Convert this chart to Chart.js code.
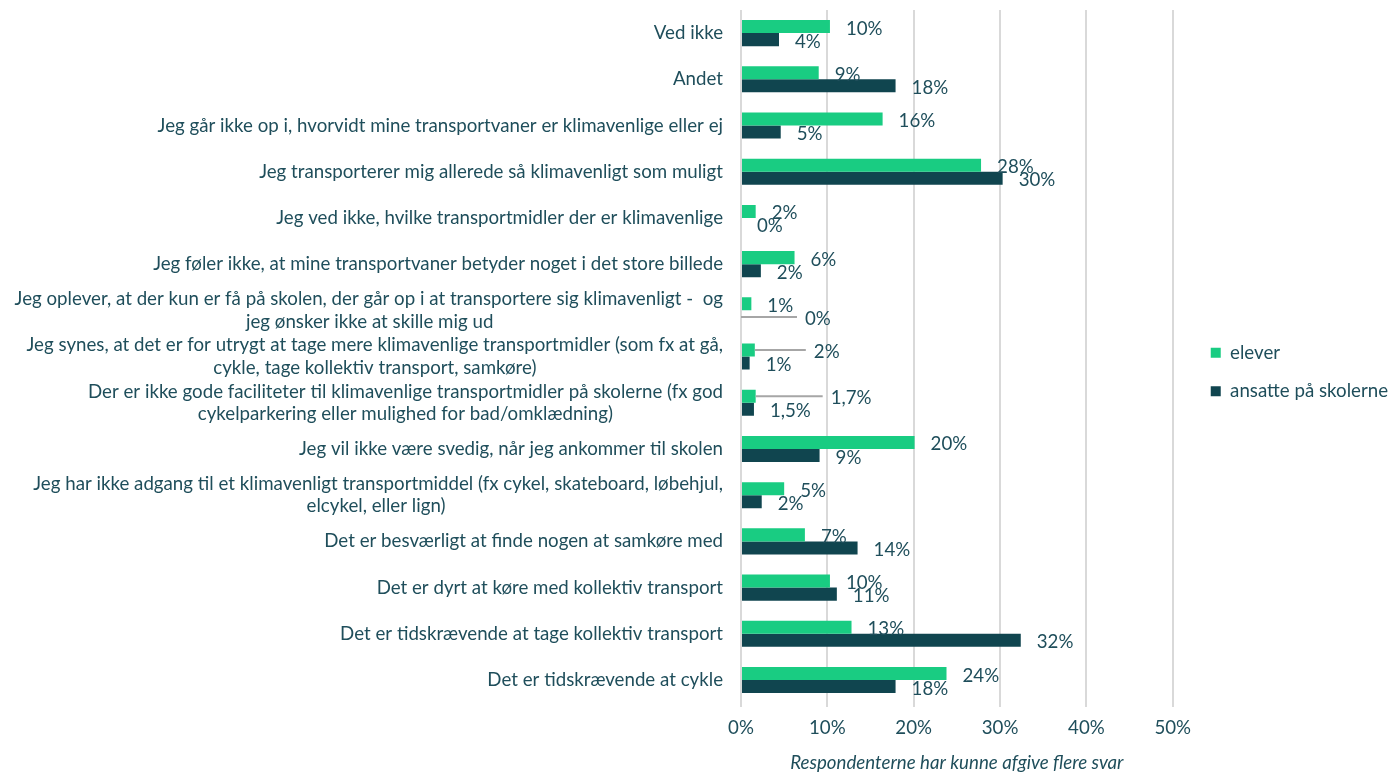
<!DOCTYPE html>
<html>
<head>
<meta charset="utf-8">
<script src="https://cdn.jsdelivr.net/npm/chart.js@4/dist/chart.umd.min.js"></script>
<style>
  html, body { margin: 0; padding: 0; background: #fff; }
  #wrap { width: 1390px; height: 772px; position: relative; }
</style>
</head>
<body>
<div id="wrap"><canvas id="bar-chart"></canvas></div>
<script>
// categories, top to bottom
const categories = [
  'Ved ikke',
  'Andet',
  'Jeg går ikke op i, hvorvidt mine transportvaner er klimavenlige eller ej',
  'Jeg transporterer mig allerede så klimavenligt som muligt',
  'Jeg ved ikke, hvilke transportmidler der er klimavenlige',
  'Jeg føler ikke, at mine transportvaner betyder noget i det store billede',
  ['Jeg oplever, at der kun er få på skolen, der går op i at transportere sig klimavenligt -  og', 'jeg ønsker ikke at skille mig ud'],
  ['Jeg synes, at det er for utrygt at tage mere klimavenlige transportmidler (som fx at gå,', 'cykle, tage kollektiv transport, samkøre)'],
  ['Der er ikke gode faciliteter til klimavenlige transportmidler på skolerne (fx god', 'cykelparkering eller mulighed for bad/omklædning)'],
  'Jeg vil ikke være svedig, når jeg ankommer til skolen',
  ['Jeg har ikke adgang til et klimavenligt transportmiddel (fx cykel, skateboard, løbehjul,', 'elcykel, eller lign)'],
  'Det er besværligt at finde nogen at samkøre med',
  'Det er dyrt at køre med kollektiv transport',
  'Det er tidskrævende at tage kollektiv transport',
  'Det er tidskrævende at cykle'
];

const seriesNames = ['elever', 'ansatte på skolerne'];

// values in percent
const elever = [10.3, 9.0, 16.4, 27.8, 1.7, 6.2, 1.2, 1.6, 1.7, 20.1, 5.0, 7.4, 10.3, 12.8, 23.8];
const ansatte = [4.4, 17.9, 4.6, 30.3, 0, 2.3, 0, 1.0, 1.5, 9.1, 2.4, 13.5, 11.1, 32.4, 17.9];

// data labels as printed in the chart
const eleverLabels = ['10%', '9%', '16%', '28%', '2%', '6%', '1%', '2%', '1,7%', '20%', '5%', '7%', '10%', '13%', '24%'];
const ansatteLabels = ['4%', '18%', '5%', '30%', '0%', '2%', '0%', '1%', '1,5%', '9%', '2%', '14%', '11%', '32%', '18%'];

const xTicks = [0, 10, 20, 30, 40, 50];

// labels that were pulled out with a leader line: [datasetIndex, categoryIndex, extra px]
const pulledLabels = [[1, 6, 48], [0, 7, 43], [0, 8, 59]];

const textColor = '#1f4e5b';
const fontFamily = 'Lato, "Noto Sans", sans-serif';
const fontSize = 18.7;
Chart.defaults.font.family = fontFamily;
Chart.defaults.font.size = fontSize;
Chart.defaults.color = textColor;

// wrapped category labels are centred line by line, so pad the shorter lines
const measureCtx = document.createElement('canvas').getContext('2d');
measureCtx.font = fontSize + 'px ' + fontFamily;
const centreLines = lines => {
  if (!Array.isArray(lines)) return lines;
  const widths = lines.map(l => measureCtx.measureText(l).width);
  const maxW = Math.max(...widths);
  const spaceW = measureCtx.measureText(' ').width;
  return lines.map((l, i) => l + ' '.repeat(Math.round((maxW - widths[i]) / 2 / spaceW)));
};

const labelPlugin = {
  id: 'barLabels',
  afterDatasetsDraw(chart) {
    const ctx = chart.ctx;
    const texts = [eleverLabels, ansatteLabels];
    ctx.save();
    ctx.font = fontSize + 'px ' + fontFamily;
    ctx.fillStyle = textColor;
    ctx.textAlign = 'left';
    ctx.textBaseline = 'middle';
    chart.data.datasets.forEach((ds, di) => {
      const meta = chart.getDatasetMeta(di);
      meta.data.forEach((bar, i) => {
        let x = bar.x + 16;
        const pulled = pulledLabels.find(p => p[0] === di && p[1] === i);
        if (pulled) {
          x += pulled[2];
          ctx.strokeStyle = '#a6a6a6';
          ctx.lineWidth = 2;
          ctx.beginPath();
          ctx.moveTo(bar.x, bar.y);
          ctx.lineTo(x - 8, bar.y);
          ctx.stroke();
        }
        ctx.fillText(texts[di][i], x, bar.y + 2);
      });
    });
    ctx.restore();
  }
};

// nudge the legend up a little, it sits above the middle in the original
const legendNudge = {
  id: 'legendNudge',
  afterLayout(chart) {
    if (chart.legend) {
      chart.legend.top -= 20;
      chart.legend.bottom -= 20;
    }
  }
};

new Chart(document.getElementById('bar-chart'), {
  type: 'bar',
  data: {
    labels: categories,
    datasets: [
      { label: seriesNames[0], data: elever, backgroundColor: '#19cc82' },
      { label: seriesNames[1], data: ansatte, backgroundColor: '#10454f' }
    ]
  },
  options: {
    indexAxis: 'y',
    responsive: true,
    maintainAspectRatio: false,
    animation: false,
    categoryPercentage: 0.565,
    barPercentage: 1.0,
    layout: { padding: { top: 10, left: 0, right: -8, bottom: -2 } },
    plugins: {
      legend: {
        position: 'right',
        labels: { boxWidth: 10, boxHeight: 10, padding: 20, color: textColor, font: { size: fontSize } }
      },
      tooltip: { enabled: false }
    },
    scales: {
      x: {
        min: 0,
        max: 50,
        afterBuildTicks: s => { s.ticks = xTicks.map(v => ({ value: v })); },
        ticks: { callback: v => v + '%', color: textColor, padding: 10 },
        grid: { color: '#d9d9d9', lineWidth: 2, drawTicks: true, tickLength: 4 },
        border: { display: false },
        title: {
          display: true,
          text: 'Respondenterne har kunne afgive flere svar',
          color: textColor,
          font: { size: fontSize, style: 'italic' },
          padding: { top: 2, bottom: 0 }
        }
      },
      y: {
        afterFit: s => { s.width = 741; s.paddingTop = 0; s.paddingBottom = 0; },
        ticks: {
          color: textColor,
          padding: 18,
          autoSkip: false,
          font: { size: fontSize, lineHeight: 1.2 },
          callback: (v, i) => centreLines(categories[i])
        },
        grid: { display: false, drawTicks: false },
        border: { display: false }
      },
      gap: {
        type: 'linear',
        position: 'right',
        display: true,
        ticks: { display: false },
        grid: { display: false, drawTicks: false },
        border: { display: false },
        afterFit: s => { s.width = 18; s.paddingTop = 0; s.paddingBottom = 0; }
      }
    }
  },
  plugins: [labelPlugin, legendNudge]
});
</script>
</body>
</html>
